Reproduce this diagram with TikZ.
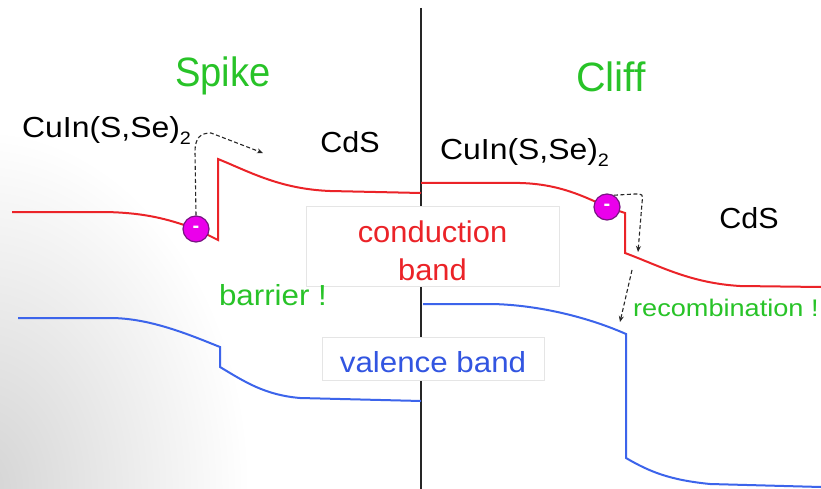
\documentclass[tikz,border=0pt]{standalone}
\usepackage{fontspec}
\setmainfont{Liberation Sans}
\usetikzlibrary{arrows.meta}
\definecolor{bandred}{RGB}{235,35,40}
\definecolor{bandblue}{RGB}{60,100,235}
\definecolor{txtgreen}{RGB}{40,195,40}
\definecolor{txtblue}{RGB}{50,85,225}
\definecolor{emag}{RGB}{235,0,235}
\definecolor{eout}{RGB}{120,20,130}
\begin{document}
\begin{tikzpicture}[x=1pt,y=-1pt,
  redband/.style={draw=bandred,line width=2pt},
  blueband/.style={draw=bandblue,line width=2pt},
  labelbox/.style={draw=black!10,fill=white,line width=0.6pt,inner sep=0pt},
  electron/.style={circle,fill=emag,draw=eout,line width=1.2pt,minimum size=26pt,inner sep=0pt,text=white,font=\fontsize{20}{20}\selectfont\bfseries},
  hop/.style={draw=black!85,line width=1.1pt,dash pattern=on 4pt off 2.5pt,-{Stealth[length=6pt,width=5pt]}},
  title/.style={text=txtgreen,font=\fontsize{41}{41}\selectfont,anchor=base,inner sep=0pt},
  mat/.style={text=black,font=\fontsize{29}{29}\selectfont,anchor=base,inner sep=0pt},
  note/.style={text=txtgreen,anchor=base,inner sep=0pt}]

\useasboundingbox (0,0) rectangle (821,489);
\fill[white] (0,0) rectangle (821,489);
\begin{scope}
  \clip (0,0) rectangle (821,489);
  \shade[inner color=black!17,outer color=white] (-20,489) ellipse (270 and 360);
\end{scope}

% interface
\coordinate (itop) at (421,8);
\coordinate (ibot) at (421,489);
\draw[black!85,line width=2pt] (itop) -- (ibot);

% spike side
\draw[redband] (12,212) -- (100,212) .. controls (150,212) and (175,222) .. (196,229)
  -- (218,240) -- (218,159) .. controls (250,172) and (280,189) .. (330,191) -- (421,193);
\draw[blueband] (18,318) -- (110,318) .. controls (150,318) and (190,335) .. (220,347)
  -- (220,367) .. controls (245,382) and (265,395) .. (300,398) -- (421,401);

% cliff side
\draw[redband] (421,183) -- (520,183) .. controls (560,184) and (585,197) .. (607,207)
  -- (625,213) -- (625,253) .. controls (660,266) and (690,283) .. (740,286) -- (821,287);
\draw[blueband] (423,304) -- (492,304) .. controls (540,305) and (590,318) .. (626,334)
  -- (626,458) .. controls (650,472) and (670,480) .. (710,484) -- (821,487);

% boxes
\node[labelbox,minimum width=253pt,minimum height=80pt,text=bandred,align=center,
  font=\fontsize{30}{38}\selectfont] (cb) at (432.5,246) {\rule{0pt}{32pt}\scalebox{1.03}[1]{conduction}\\\scalebox{1.03}[1]{band}};
\node[labelbox,minimum width=222pt,minimum height=43pt,text=txtblue,
  font=\fontsize{29}{29}\selectfont] (vb) at (433,358.5) {\rule{0pt}{29pt}\scalebox{1.08}[1]{valence band}};

% titles
\node[title] (spike) at (223,87) {\scalebox{0.93}[1]{Spike}};
\node[title] (cliff) at (611,92) {Cliff};

% materials
\node[mat,anchor=base west] (cuinL) at (22,138) {\scalebox{1.1}[1]{CuIn(S,Se)\raisebox{-7pt}{\fontsize{18}{18}\selectfont 2}}};
\node[mat] (cdsL) at (350,153) {\scalebox{1.05}[1]{CdS}};
\node[mat,anchor=base west] (cuinR) at (440,160) {\scalebox{1.1}[1]{CuIn(S,Se)\raisebox{-7pt}{\fontsize{18}{18}\selectfont 2}}};
\node[mat] (cdsR) at (749,228) {\scalebox{1.05}[1]{CdS}};

% notes
\node[note,font=\fontsize{29}{29}\selectfont] (barrier) at (273,305) {\scalebox{1.08}[1]{barrier !}};
\node[note,anchor=base west,font=\fontsize{24}{24}\selectfont] (recomb) at (633,316) {\scalebox{1.13}[1]{recombination !}};

% electrons
\node[electron] (e1) at (196,229) {-};
\node[electron] (e2) at (607,207) {-};

% hops
\coordinate (hopL) at (263,153);
\draw[hop] (e1.north) -- (195,152) .. controls (195,137) and (201,133) .. (211,133) -- (hopL);
\coordinate (hopR1) at (638,252);
\draw[hop] (e2.60) -- (635,194) .. controls (643,194) .. (642,203) -- (hopR1);
\coordinate (hopR2s) at (632,270);
\coordinate (hopR2e) at (620,322);
\draw[hop] (hopR2s) -- (hopR2e);
\end{tikzpicture}
\end{document}
